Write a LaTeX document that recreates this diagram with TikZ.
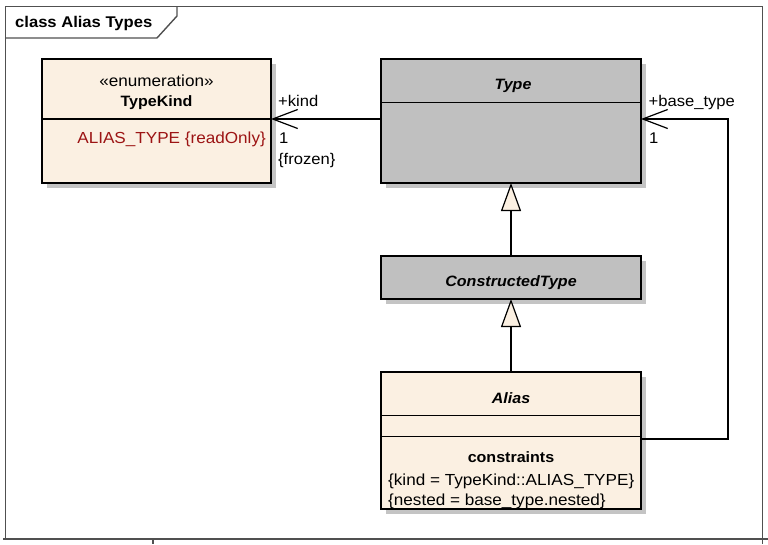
\documentclass[tikz,border=0pt]{standalone}
\usepackage{fontspec}
\setmainfont{Liberation Sans}[FakeStretch=1.07]
\usetikzlibrary{arrows.meta,shadows}
\definecolor{cream}{HTML}{FBF0E2}
\definecolor{classgray}{HTML}{C0C0C0}
\definecolor{shadowgray}{HTML}{C4C4C4}
\definecolor{enumred}{HTML}{9C1414}
\definecolor{framegray}{HTML}{505050}
\begin{document}
\begin{tikzpicture}[x=1pt,y=-1pt,
  classbox/.style={draw=black, line width=1.4pt, anchor=north west, inner sep=0pt, outer sep=0pt,
    drop shadow={shadow xshift=5pt, shadow yshift=-5pt, fill=shadowgray, opacity=1}},
  sepline/.style={draw=black, line width=1.3pt},
  txt/.style={inner sep=0pt, font=\fontsize{15.5}{18}\selectfont},
  boxtxt/.style={inner sep=0pt, font=\fontsize{16}{18}\selectfont},
  boldtxt/.style={inner sep=0pt, font=\fontsize{15}{18}\selectfont\bfseries},
  abstxt/.style={inner sep=0pt, font=\fontsize{15}{18}\selectfont\bfseries\itshape},
  assoc/.style={line width=1.2pt, -{Straight Barb[length=25pt,width=19pt,line width=1.2pt]}},
  gen/.style={line width=1.2pt, -{Triangle[length=28pt,width=20pt,fill=cream,line width=1.2pt]}},
  framestyle/.style={draw=framegray, line width=1.4pt}
]
\useasboundingbox (0,0) rectangle (768,544);

% diagram frame and name tab
\draw[framestyle] (5.5,539) -- (5.5,6.5) -- (762.5,6.5) -- (762.5,539);
\draw[framestyle] (3,539) -- (768,539);
\draw[framestyle] (153,539) -- (153,544);
\draw[framestyle] (762.5,539) -- (762.5,544);
\draw[framestyle] (5.5,38) -- (157,38) -- (177,16) -- (177,6.5);
\node[boldtxt, font=\fontsize{15.5}{18}\selectfont\bfseries, anchor=base west] (title) at (15,27.5) {class Alias Types};

% classes
\node[classbox, fill=cream, minimum width=229pt, minimum height=124pt] (tk) at (42,59) {};
\node[classbox, fill=classgray, minimum width=260pt, minimum height=124pt] (ty) at (381,59) {};
\node[classbox, fill=classgray, minimum width=260pt, minimum height=43pt] (ct) at (381,256) {};
\node[classbox, fill=cream, minimum width=260pt, minimum height=137pt] (al) at (381,372) {};

% compartments
\draw[sepline] (tk.west |- 0,119) -- (tk.east |- 0,119);
\draw[sepline] (ty.west |- 0,102.5) -- (ty.east |- 0,102.5);
\draw[sepline] (al.west |- 0,415.5) -- (al.east |- 0,415.5);
\draw[sepline] (al.west |- 0,436.5) -- (al.east |- 0,436.5);

% TypeKind
\node[boxtxt, anchor=base] (tkst) at (156.5,86) {«enumeration»};
\node[boldtxt, anchor=base] (tkname) at (156.5,106) {TypeKind};
\node[boxtxt, anchor=base east, text=enumred] (tklit) at (266,143) {ALIAS\_TYPE \{readOnly\}};

% Type / ConstructedType
\node[abstxt, anchor=base] (tyname) at (513,89) {Type};
\node[abstxt, anchor=base] (ctname) at (511,286) {ConstructedType};

% Alias
\node[abstxt, anchor=base] (alname) at (511,403) {Alias};
\node[boldtxt, anchor=base] (alcons) at (511,462) {constraints};
\node[boxtxt, anchor=base west] (alc1) at (388,485) {\{kind = TypeKind::ALIAS\_TYPE\}};
\node[boxtxt, anchor=base west] (alc2) at (388,505) {\{nested = base\_type.nested\}};

% generalizations
\draw[gen] (ct.north) -- (ty.south);
\draw[gen] (al.north) -- (ct.south);

% association kind
\coordinate (ky) at (0,119);
\draw[assoc] (ty.west |- ky) -- (tk.east |- ky);
\node[txt, anchor=base west] (kindrole) at (278,106) {+kind};
\node[txt, anchor=base west] (kindmult) at (279,143) {1};
\node[txt, anchor=base west] (kindcons) at (278,164) {\{frozen\}};

% association base_type
\coordinate (bt1) at (728,439);
\coordinate (bt2) at (728,119);
\draw[assoc] (al.east |- bt1) -- (bt1) -- (bt2) -- (ty.east |- bt2);
\node[txt, anchor=base west] (btrole) at (648.5,106) {+base\_type};
\node[txt, anchor=base west] (btmult) at (649,143) {1};
\end{tikzpicture}
\end{document}
